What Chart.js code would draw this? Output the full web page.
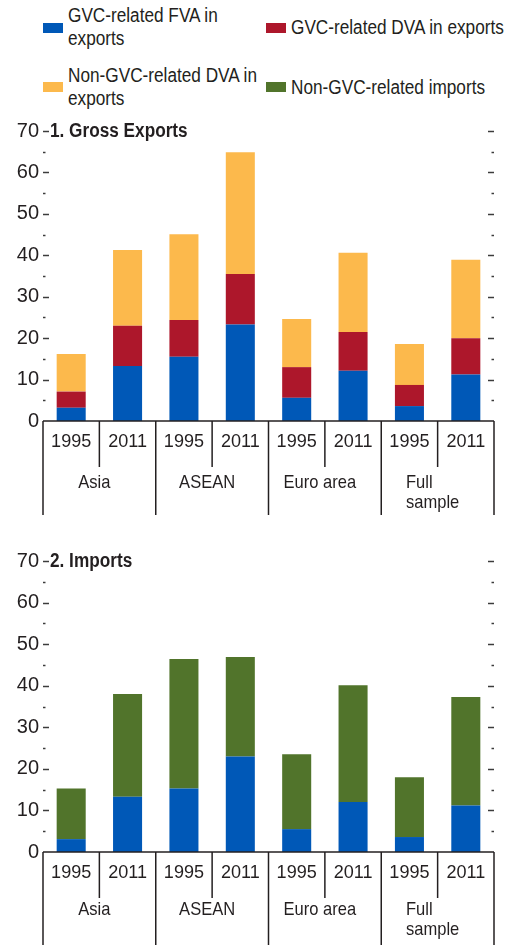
<!DOCTYPE html>
<html><head><meta charset="utf-8">
<script src="https://cdn.jsdelivr.net/npm/chart.js@4"></script>
<style>
body{margin:0;width:506px;height:945px;position:relative;background:#fff;overflow:hidden;
 font-family:"Liberation Sans",Arial,sans-serif;color:#231f20}
.leg{position:absolute;font-size:20px;line-height:23px;white-space:nowrap;transform:scaleX(0.86);transform-origin:0 0}
.sw{position:absolute;width:20px;height:10px}
canvas{position:absolute;left:0}
</style></head><body>
<div id="legend"></div>
<canvas id="c1" width="506" height="405" style="top:115px"></canvas>
<canvas id="c2" width="506" height="400" style="top:545px"></canvas>
<script>
// ---- data ----
const categories = ['1995','2011','1995','2011','1995','2011','1995','2011'];
const groups = [['Asia'],['ASEAN'],['Euro area'],['Full','sample']];
const seriesNames = ['GVC-related FVA in exports','GVC-related DVA in exports','Non-GVC-related DVA in exports','Non-GVC-related imports'];
const gvcFVAExports    = [3.2, 13.3, 15.5, 23.3, 5.6, 12.1, 3.6, 11.2];
const gvcDVAExports    = [3.9,  9.7,  8.9, 12.2, 7.4,  9.4, 5.1,  8.8];
const nonGvcDVAExports = [9.1, 18.3, 20.7, 29.4, 11.6, 19.1, 9.9, 18.9];
const gvcFVAImports    = [3.1, 13.3, 15.3, 23.0, 5.5, 12.0, 3.6, 11.2];
const nonGvcImports    = [12.2, 24.7, 31.1, 23.9, 18.0, 28.1, 14.4, 26.1];
const yMin = 0, yMax = 70, yStep = 5;

const COLORS = {blue:'#0058b7', red:'#ad172b', yellow:'#fcb94c', green:'#51742b'};
const FONT = '"Liberation Sans", Arial, sans-serif';
const TXT = '#231f20';

// ---- legend (HTML) ----
const legendItems = [
  {name: ['GVC-related FVA in','exports'], color: COLORS.blue, sx:43, sy:23, tx:68, ty:4},
  {name: [seriesNames[1]], color: COLORS.red, sx:266, sy:23, tx:291, ty:16},
  {name: ['Non-GVC-related DVA in','exports'], color: COLORS.yellow, sx:43, sy:82, tx:68, ty:64},
  {name: [seriesNames[3]], color: COLORS.green, sx:266, sy:82, tx:291, ty:76}
];
const lg = document.getElementById('legend');
legendItems.forEach(it => {
  const s = document.createElement('div'); s.className='sw';
  s.style.left=it.sx+'px'; s.style.top=it.sy+'px'; s.style.background=it.color; lg.appendChild(s);
  const t = document.createElement('div'); t.className='leg';
  t.style.left=it.tx+'px'; t.style.top=it.ty+'px';
  t.innerHTML = it.name.join('<br>'); lg.appendChild(t);
});

function narrowText(ctx, text, x, y, align, sx) {
  ctx.save();
  ctx.translate(x, y);
  ctx.scale(sx, 1);
  ctx.textAlign = align;
  ctx.fillText(text, 0, 0);
  ctx.restore();
}

function axisPlugin(title, groupY) {
  return {
    id: 'customAxis',
    afterDraw(chart) {
      const {ctx, chartArea:a, scales:{x, y}} = chart;
      const line = (x1,y1,x2,y2) => {ctx.beginPath();ctx.moveTo(x1,y1);ctx.lineTo(x2,y2);ctx.stroke();};
      ctx.save();
      // y tick marks (left, pointing in; right, pointing in)
      ctx.strokeStyle = '#3c3c3c'; ctx.lineWidth = 1.5;
      y.ticks.forEach(t => {
        if (t.value === 0) return;
        const py = Math.round(y.getPixelForValue(t.value)) + 0.5;
        const len = (t.value % 10 === 0) ? 6 : 2.5;
        line(a.left, py, a.left + len, py);
        line(a.right - len, py, a.right, py);
      });
      // baseline
      ctx.strokeStyle = TXT; ctx.lineWidth = 1.5;
      line(a.left, a.bottom, a.right, a.bottom);
      const n = categories.length;
      const step = x.getPixelForValue(1) - x.getPixelForValue(0);
      for (let i = 0; i <= n; i++) {
        const px = (i < n ? x.getPixelForValue(i) - step/2 : x.getPixelForValue(n-1) + step/2);
        const long = i % 2 === 0;
        line(px, a.bottom, px, a.bottom + (long ? 94 : 46));
      }
      // inner labels
      ctx.fillStyle = TXT;
      ctx.font = '19px ' + FONT;
      ctx.textBaseline = 'alphabetic';
      categories.forEach((c, i) => narrowText(ctx, c, x.getPixelForValue(i), a.bottom + 26, 'center', 0.95));
      // group labels
      const gs = 0.87;
      groups.forEach((g, gi) => {
        const cx = (x.getPixelForValue(2*gi) + x.getPixelForValue(2*gi+1)) / 2 - 5;
        if (g.length === 1) {
          narrowText(ctx, g[0], cx, a.bottom + groupY, 'center', gs);
        } else {
          const w = Math.max(...g.map(s => ctx.measureText(s).width)) * gs;
          g.forEach((s, k) => narrowText(ctx, s, cx - w/2, a.bottom + groupY + k*20, 'left', gs));
        }
      });
      // panel title
      ctx.font = 'bold 20px ' + FONT;
      ctx.textBaseline = 'middle';
      narrowText(ctx, title, a.left + 7, a.top, 'left', 0.86);
      ctx.restore();
    }
  };
}

function makeOptions(padBottom) {
  return {
    responsive: false, animation: false,
    layout: {padding: {left: 0, right: 12, top: 16, bottom: padBottom}},
    plugins: {legend: {display: false}, tooltip: {enabled: false}, title: {display: false}},
    scales: {
      x: {display: false, stacked: true},
      y: {
        stacked: true, min: yMin, max: yMax,
        afterFit: s => { s.width = 43; },
        grid: {display: false, drawTicks: false},
        border: {display: false},
        ticks: {
          stepSize: yStep, maxTicksLimit: 20, autoSkip: false, padding: 4,
          color: TXT, font: {family: FONT, size: 20},
          callback: v => (v % 10 === 0 ? v : '')
        }
      }
    }
  };
}
const barOpts = {barPercentage: 0.515, categoryPercentage: 1, borderWidth: 0};

new Chart(document.getElementById('c1'), {
  type: 'bar',
  data: {
    labels: categories,
    datasets: [
      {label: seriesNames[0], data: gvcFVAExports, backgroundColor: COLORS.blue, ...barOpts},
      {label: seriesNames[1], data: gvcDVAExports, backgroundColor: COLORS.red, ...barOpts},
      {label: seriesNames[2], data: nonGvcDVAExports, backgroundColor: COLORS.yellow, ...barOpts}
    ]
  },
  options: makeOptions(99),
  plugins: [axisPlugin('1. Gross Exports', 67)]
});

new Chart(document.getElementById('c2'), {
  type: 'bar',
  data: {
    labels: categories,
    datasets: [
      {label: seriesNames[0], data: gvcFVAImports, backgroundColor: COLORS.blue, ...barOpts},
      {label: seriesNames[3], data: nonGvcImports, backgroundColor: COLORS.green, ...barOpts}
    ]
  },
  options: makeOptions(93),
  plugins: [axisPlugin('2. Imports', 63)]
});
</script>
</body></html>
